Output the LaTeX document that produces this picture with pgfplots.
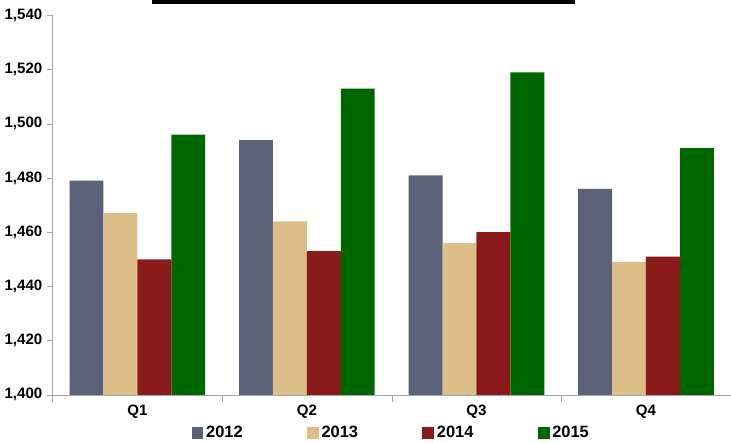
\documentclass[border=0pt]{standalone}
\usepackage{pgfplots}
\pgfplotsset{compat=1.18}
\usepackage{fontspec}
\setmainfont{Liberation Sans}
\definecolor{c1}{HTML}{5A6178}
\definecolor{c2}{HTML}{DDBE88}
\definecolor{c3}{HTML}{8B1A1A}
\definecolor{c4}{HTML}{006600}
\begin{document}
\begin{tikzpicture}
\begin{axis}[
  width=495pt, height=277pt, scale only axis,
  ybar=0pt, bar width=24.75pt,
  xmin=-0.5, xmax=3.5, ymin=1400, ymax=1540, ytick={1400,1420,...,1540},
  xtick={0,1,2,3}, xticklabels={Q1,Q2,Q3,Q4}, major x tick style={draw=none},
  minor xtick={-0.5,0.5,1.5,2.5,3.5}, minor tick length=5pt,
  tick align=outside, major tick length=4pt,
  ticklabel style={font=\bfseries\fontsize{11}{13}\selectfont},
  /pgf/number format/assume math mode=true,
  /pgf/number format/1000 sep={,},
  axis line style={gray!70}, tick style={gray!70},
  axis x line*=bottom, axis y line*=left,
  legend style={at={(0.5,-0.075)}, anchor=north, draw=none, font=\bfseries\large, legend columns=4, inner sep=0pt, /tikz/every even column/.append style={column sep=45pt}},
  legend image code/.code={\fill[#1] (0cm,-0.15cm) rectangle (0.3cm,0.15cm);},
  clip=false,
]
\addplot[fill=c1, draw=none] coordinates {(0,1479) (1,1494) (2,1481) (3,1476)};
\addplot[fill=c2, draw=none] coordinates {(0,1467) (1,1464) (2,1456) (3,1449)};
\addplot[fill=c3, draw=none] coordinates {(0,1450) (1,1453) (2,1460) (3,1451)};
\addplot[fill=c4, draw=none] coordinates {(0,1496) (1,1513) (2,1519) (3,1491)};
\legend{2012,2013,2014,2015}
\draw[line width=3pt] (rel axis cs:0.146,1.035) -- (rel axis cs:0.77,1.035);
\end{axis}
\end{tikzpicture}
\end{document}
